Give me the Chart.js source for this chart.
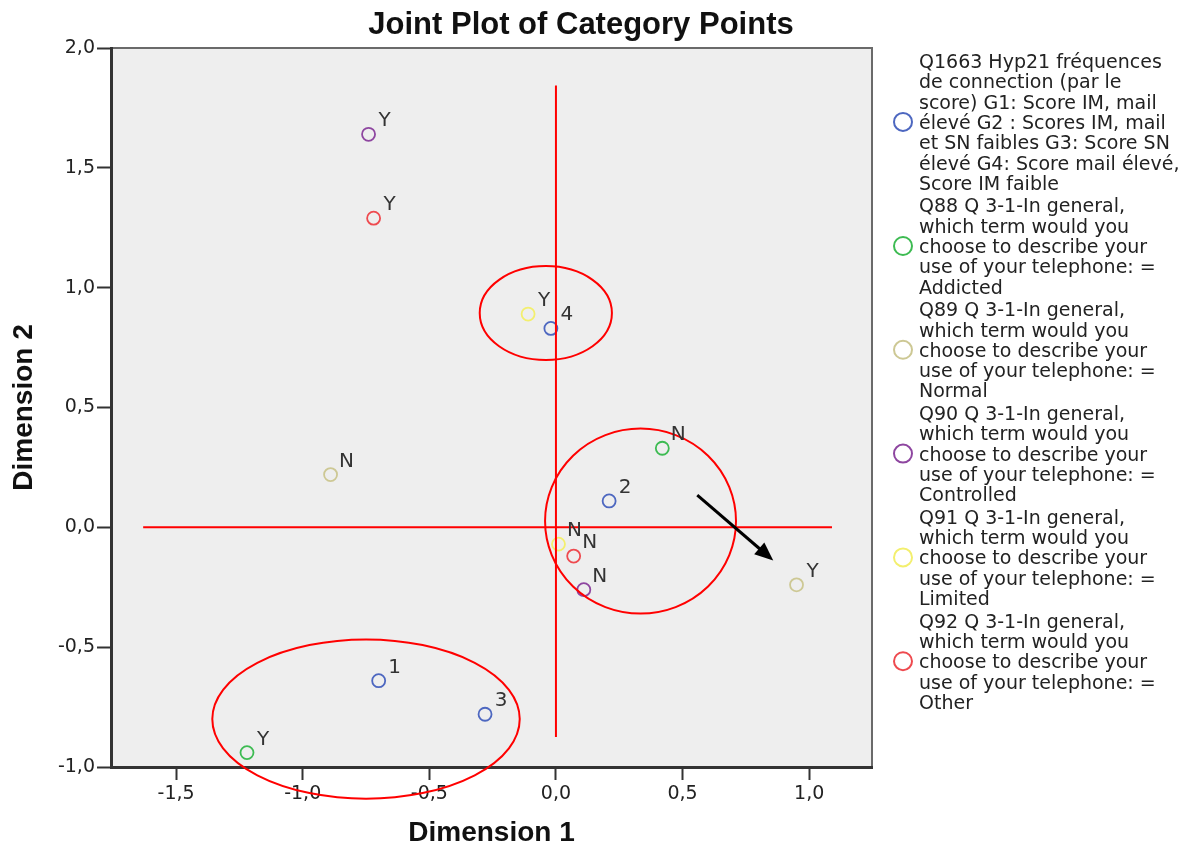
<!DOCTYPE html>
<html>
<head>
<meta charset="utf-8">
<title>Joint Plot of Category Points</title>
<script src="https://cdn.jsdelivr.net/npm/chart.js@4.4.0/dist/chart.umd.min.js"></script>
<style>
	html, body { margin: 0; padding: 0; background: #fff; }
	canvas { display: block; }
</style>
</head>
<body>
<canvas id="joint" width="1191" height="847"></canvas>
<script>
// category point coordinates (dimension 1 / dimension 2)
const groupX = [-0.70, 0.21, -0.28, -0.02];
const groupY = [-0.64, 0.11, -0.78, 0.83];
const groupTags = ["1", "2", "3", "4"];

const addictedX = [0.42, -1.22];
const addictedY = [0.33, -0.94];
const addictedTags = ["N", "Y"];

const normalX = [-0.89, 0.95];
const normalY = [0.22, -0.24];
const normalTags = ["N", "Y"];

const controlledX = [-0.74, 0.11];
const controlledY = [1.64, -0.26];
const controlledTags = ["Y", "N"];

const limitedX = [-0.11, 0.01];
const limitedY = [0.89, -0.07];
const limitedTags = ["Y", "N"];

const otherX = [-0.72, 0.07];
const otherY = [1.29, -0.12];
const otherTags = ["Y", "N"];

const seriesNames = [
	"Q1663 Hyp21 fréquences\nde connection (par le\nscore) G1: Score IM, mail\nélevé G2 : Scores IM, mail\net SN faibles G3: Score SN\nélevé G4: Score mail élevé,\nScore IM faible",
	"Q88 Q 3-1-In general,\nwhich term would you\nchoose to describe your\nuse of your telephone: =\nAddicted",
	"Q89 Q 3-1-In general,\nwhich term would you\nchoose to describe your\nuse of your telephone: =\nNormal",
	"Q90 Q 3-1-In general,\nwhich term would you\nchoose to describe your\nuse of your telephone: =\nControlled",
	"Q91 Q 3-1-In general,\nwhich term would you\nchoose to describe your\nuse of your telephone: =\nLimited",
	"Q92 Q 3-1-In general,\nwhich term would you\nchoose to describe your\nuse of your telephone: =\nOther",
];
const seriesColors = ["#4d67c0", "#3dbb52", "#cdc894", "#8e46a0", "#f3ef6e", "#ee4a4f"];

// axes
const xTicks = [-1.5, -1.0, -0.5, 0.0, 0.5, 1.0];
const yTicks = [-1.0, -0.5, 0.0, 0.5, 1.0, 1.5, 2.0];
const xRange = [-1.757, 1.248];
const yRange = [-1.0, 2.0];

// hand-drawn annotations, in data units
const crossHorizontal = [-1.63, 1.09];
const crossVertical = [-0.875, 1.844];
const ellipseCX = [-0.04, 0.334, -0.75];
const ellipseCY = [0.894, 0.026, -0.80];
const ellipseRX = [0.261, 0.377, 0.607];
const ellipseRY = [0.196, 0.386, 0.332];
const arrowFrom = [0.558, 0.134];
const arrowTo = [0.858, -0.138];

const fmt = v => Number(v).toFixed(1).replace(".", ",");

const makeSet = (i, xs, ys, tags) => ({
	label: seriesNames[i],
	data: xs.map((x, k) => ({ x: x, y: ys[k] })),
	tags: tags,
	borderColor: seriesColors[i],
	backgroundColor: "transparent",
	pointRadius: 6.5,
	pointHoverRadius: 6.5,
	pointBorderWidth: 1.8,
	showLine: false,
});

const plotFrame = {
	id: "plotFrame",
	beforeDraw(chart) {
		const { ctx, chartArea: a } = chart;
		ctx.save();
		ctx.fillStyle = "#eeeeee";
		ctx.fillRect(a.left, a.top, a.width, a.height);
		ctx.strokeStyle = "#6a6a6a";
		ctx.lineWidth = 2;
		ctx.strokeRect(a.left, a.top, a.width, a.height);
		ctx.restore();
	},
};

const marks = {
	id: "marks",
	afterDatasetsDraw(chart) {
		const ctx = chart.ctx;
		const sx = chart.scales.x;
		const sy = chart.scales.y;
		const px = v => sx.getPixelForValue(v);
		const py = v => sy.getPixelForValue(v);
		ctx.save();

		// red cross and ellipses
		ctx.strokeStyle = "#ff0000";
		ctx.lineWidth = 2;
		ctx.beginPath();
		ctx.moveTo(px(crossHorizontal[0]), py(0));
		ctx.lineTo(px(crossHorizontal[1]), py(0));
		ctx.moveTo(px(0), py(crossVertical[0]));
		ctx.lineTo(px(0), py(crossVertical[1]));
		ctx.stroke();
		ellipseCX.forEach((cx, i) => {
			const rx = px(cx + ellipseRX[i]) - px(cx);
			const ry = py(ellipseCY[i]) - py(ellipseCY[i] + ellipseRY[i]);
			ctx.beginPath();
			ctx.ellipse(px(cx), py(ellipseCY[i]), rx, ry, 0, 0, Math.PI * 2);
			ctx.stroke();
		});

		// arrow
		const x0 = px(arrowFrom[0]), y0 = py(arrowFrom[1]);
		const x1 = px(arrowTo[0]), y1 = py(arrowTo[1]);
		const ang = Math.atan2(y1 - y0, x1 - x0);
		const head = 20;
		ctx.strokeStyle = "#000";
		ctx.fillStyle = "#000";
		ctx.lineWidth = 3;
		ctx.beginPath();
		ctx.moveTo(x0, y0);
		ctx.lineTo(x1 - Math.cos(ang) * head * 0.8, y1 - Math.sin(ang) * head * 0.8);
		ctx.stroke();
		ctx.beginPath();
		ctx.moveTo(x1, y1);
		ctx.lineTo(x1 - head * Math.cos(ang - 0.4), y1 - head * Math.sin(ang - 0.4));
		ctx.lineTo(x1 - head * Math.cos(ang + 0.4), y1 - head * Math.sin(ang + 0.4));
		ctx.closePath();
		ctx.fill();

		// point tags
		ctx.font = '20px "DejaVu Sans"';
		ctx.fillStyle = "#333";
		ctx.textAlign = "center";
		ctx.textBaseline = "alphabetic";
		chart.data.datasets.forEach((ds, i) => {
			chart.getDatasetMeta(i).data.forEach((pt, k) => {
				ctx.fillText(ds.tags[k], pt.x + 16, pt.y - 8);
			});
		});
		ctx.restore();
	},
};

const sideParts = {
	id: "sideParts",
	afterDraw(chart) {
		const ctx = chart.ctx;
		ctx.save();
		// title
		ctx.font = 'bold 31px "Liberation Sans"';
		ctx.fillStyle = "#111";
		ctx.textAlign = "center";
		ctx.textBaseline = "alphabetic";
		ctx.fillText("Joint Plot of Category Points", 581, 34);

		// legend
		ctx.font = '19px "DejaVu Sans"';
		ctx.fillStyle = "#222";
		ctx.textAlign = "left";
		let y = 68;
		chart.data.datasets.forEach(ds => {
			const lines = ds.label.split("\n");
			const first = y;
			lines.forEach((ln, k) => {
				ctx.fillText(ln, 919, y);
				if (k < lines.length - 1) y += 20.3;
			});
			const mid = (first + y) / 2 - 7;
			ctx.beginPath();
			ctx.arc(903, mid, 9, 0, Math.PI * 2);
			ctx.strokeStyle = ds.borderColor;
			ctx.lineWidth = 2;
			ctx.stroke();
			y += 22.6;
		});
		ctx.restore();
	},
};

const data = {
	datasets: [
		makeSet(0, groupX, groupY, groupTags),
		makeSet(1, addictedX, addictedY, addictedTags),
		makeSet(2, normalX, normalY, normalTags),
		makeSet(3, controlledX, controlledY, controlledTags),
		makeSet(4, limitedX, limitedY, limitedTags),
		makeSet(5, otherX, otherY, otherTags),
	],
};

const options = {
	responsive: false,
	animation: false,
	layout: { padding: { top: 48, right: 319, left: 0, bottom: 0 } },
	plugins: {
		legend: { display: false },
		title: { display: false },
		tooltip: { enabled: false },
	},
	scales: {
		x: {
			type: "linear",
			min: xRange[0],
			max: xRange[1],
			afterBuildTicks: s => { s.ticks = xTicks.map(v => ({ value: v })); },
			afterFit: s => { s.height = 80; },
			grid: { drawOnChartArea: false, drawTicks: true, tickLength: 13, tickColor: "#333", tickWidth: 2 },
			border: { display: true, color: "#333", width: 3 },
			ticks: {
				color: "#222",
				font: { family: "DejaVu Sans", size: 19 },
				padding: 3,
				maxRotation: 0,
				autoSkip: false,
				callback: v => fmt(v),
			},
			title: {
				display: true,
				text: "Dimension 1",
				color: "#111",
				font: { family: "Liberation Sans", size: 28, weight: "bold", lineHeight: 1 },
				padding: { top: 0, bottom: 0 },
			},
		},
		y: {
			type: "linear",
			min: yRange[0],
			max: yRange[1],
			afterBuildTicks: s => { s.ticks = yTicks.map(v => ({ value: v })); },
			afterFit: s => { s.width = 111; },
			grid: { drawOnChartArea: false, drawTicks: true, tickLength: 14, tickColor: "#333", tickWidth: 2 },
			border: { display: true, color: "#333", width: 3 },
			ticks: {
				color: "#222",
				font: { family: "DejaVu Sans", size: 19 },
				padding: 2,
				autoSkip: false,
				callback: v => fmt(v),
			},
			title: {
				display: true,
				text: "Dimension 2",
				color: "#111",
				font: { family: "Liberation Sans", size: 28, weight: "bold", lineHeight: 1 },
				padding: { top: 10, bottom: 0 },
			},
		},
	},
};

new Chart(document.getElementById("joint"), {
	type: "scatter",
	data: data,
	options: options,
	plugins: [plotFrame, marks, sideParts],
});
</script>
</body>
</html>
